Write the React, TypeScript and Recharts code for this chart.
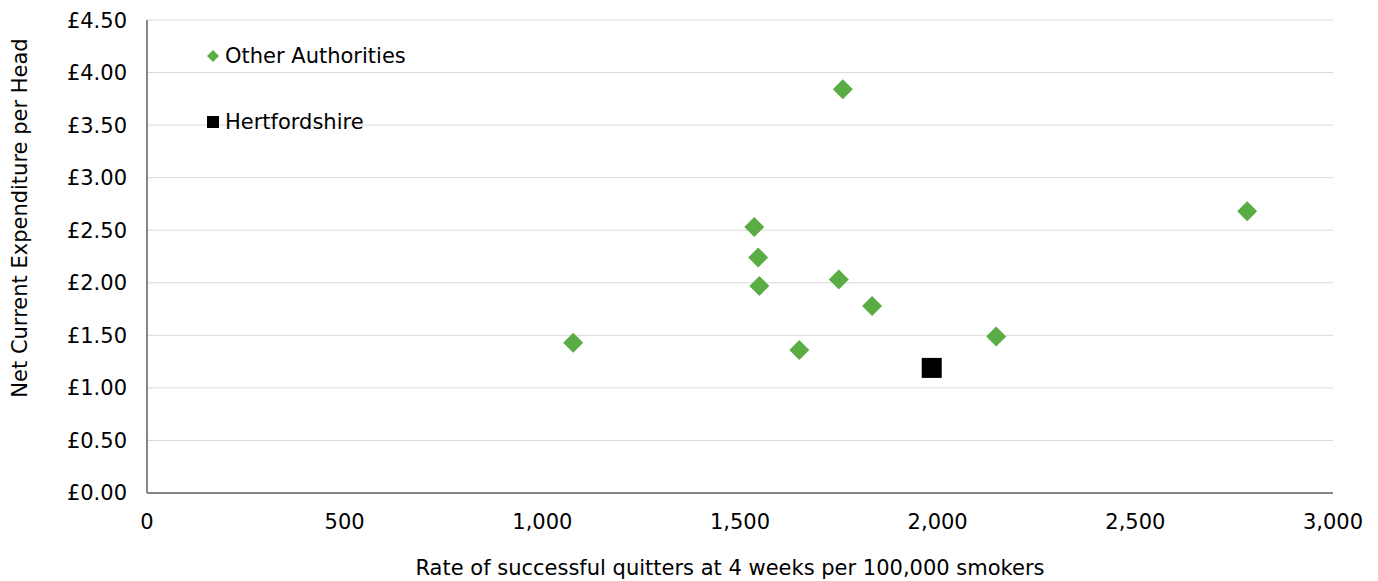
import React from 'react';
import {
	ScatterChart,
	Scatter,
	CartesianGrid,
	XAxis,
	YAxis,
} from 'recharts';

const otherRates = [1078, 1536, 1546, 1549, 1650, 1750, 1760, 1834, 2148, 2783];
const otherSpend = [1.43, 2.53, 2.24, 1.97, 1.36, 2.03, 3.84, 1.78, 1.49, 2.68];
const hertsRates = [1985];
const hertsSpend = [1.19];

const xTicks = [0, 500, 1000, 1500, 2000, 2500, 3000];
const yTicks = [0, 0.5, 1, 1.5, 2, 2.5, 3, 3.5, 4, 4.5];

const otherData = otherRates.map((x, i) => ({ x, y: otherSpend[i] }));
const hertsData = hertsRates.map((x, i) => ({ x, y: hertsSpend[i] }));

const font = 'Verdana, "DejaVu Sans", sans-serif';
const green = '#5aac44';
const fs = 21;

const Diamond = (props: any) => {
	const { cx, cy } = props;
	const r = 10;
	return (
		<polygon
			points={`${cx},${cy - r} ${cx + r},${cy} ${cx},${cy + r} ${cx - r},${cy}`}
			fill={green}
		/>
	);
};

const Square = (props: any) => {
	const { cx, cy } = props;
	return <rect x={cx - 10} y={cy - 10} width={20} height={20} fill='#000' />;
};

const YLabel = () => (
	<text
		x={12}
		y={210}
		transform='rotate(-90, 12, 210)'
		textAnchor='middle'
		dominantBaseline='central'
		fill='#000'
		fontSize={fs}
		fontFamily={font}
	>
		Net Current Expenditure per Head
	</text>
);

const XLabel = () => (
	<text
		x={722}
		y={560}
		textAnchor='middle'
		dominantBaseline='central'
		fill='#000'
		fontSize={fs}
		fontFamily={font}
	>
		Rate of successful quitters at 4 weeks per 100,000 smokers
	</text>
);

const LegendBox = () => (
	<div
		style={{
			position: 'absolute',
			left: 199,
			top: 36,
			fontFamily: font,
			fontSize: fs,
			color: '#000',
			lineHeight: '24px',
		}}
	>
		<div style={{ display: 'flex', alignItems: 'center', height: 24 }}>
			<svg width={12} height={12} style={{ marginRight: 6 }}>
				<polygon points='6,0 12,6 6,12 0,6' fill={green} />
			</svg>
			Other Authorities
		</div>
		<div
			style={{
				display: 'flex',
				alignItems: 'center',
				height: 24,
				marginTop: 42,
			}}
		>
			<svg width={12} height={12} style={{ marginRight: 6 }}>
				<rect x={0} y={0} width={12} height={12} fill='#000' />
			</svg>
			Hertfordshire
		</div>
	</div>
);

const App = () => {
	return (
		<div style={{ position: 'relative', fontFamily: font }}>
			<ScatterChart
				width={1362}
				height={573}
				margin={{ top: 12, right: 37, bottom: 0, left: 0 }}
			>
				<CartesianGrid vertical={false} stroke='#d9d9d9' />
				<XAxis
					type='number'
					dataKey='x'
					domain={[0, 3000]}
					ticks={xTicks}
					height={88}
					tickLine={false}
					axisLine={{ stroke: '#868686', strokeWidth: 2 }}
					tick={{ fill: '#000', fontSize: fs, fontFamily: font }}
					tickMargin={15}
					tickFormatter={(v) => v.toLocaleString('en-GB')}
					label={{ content: <XLabel /> }}
				/>
				<YAxis
					type='number'
					dataKey='y'
					domain={[0, 4.5]}
					ticks={yTicks}
					width={139}
					tickLine={false}
					axisLine={{ stroke: '#868686', strokeWidth: 2 }}
					tick={{ fill: '#000', fontSize: fs, fontFamily: font }}
					tickMargin={14}
					tickFormatter={(v) => `£${v.toFixed(2)}`}
					label={{ content: <YLabel /> }}
				/>
				<Scatter
					name='Other Authorities'
					data={otherData}
					shape={Diamond}
					isAnimationActive={false}
				/>
				<Scatter
					name='Hertfordshire'
					data={hertsData}
					shape={Square}
					isAnimationActive={false}
				/>
			</ScatterChart>
			<LegendBox />
		</div>
	);
};

export default App;
